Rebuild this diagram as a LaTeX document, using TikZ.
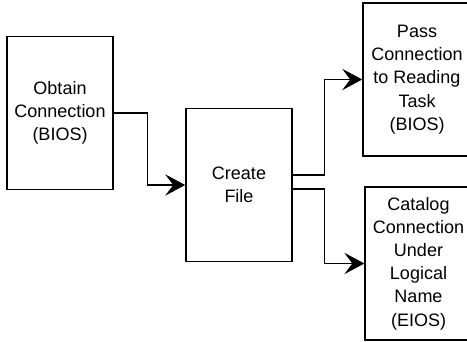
\documentclass[tikz,border=0pt]{standalone}
\usepackage{fontspec}
\setmainfont{Liberation Sans}
\usetikzlibrary{arrows.meta}

\begin{document}
\begin{tikzpicture}[
    x=0.75pt, y=-0.75pt,
    font=\fontsize{13.5}{17.4}\selectfont, >={Stealth[length=15pt, width=16pt, inset=6pt]},
    task/.style={draw, line width=1.2pt, minimum width=#1, minimum height=115pt,
                 align=center, inner sep=0pt},
    task/.default=79.5pt,
    arr/.style={->, line width=0.8pt}]
  \useasboundingbox (0,0) rectangle (467,342);
  %% Boxes
  \node[task] (obtain) at (60,113) {Obtain\\Connection\\(BIOS)};
  \node[task] (create) at (239,185) {Create\\File};
  \node[task=81pt] (pass) at (417,79.5) {Pass\\Connection\\to Reading\\Task\\(BIOS)};
  \node[task=80pt] (catalog) at (418.5,263.5)
    {Catalog\\Connection\\Under\\Logical\\Name\\(EIOS)};
  %% Connectors
  \draw[arr] (obtain.east) -- ++(34,0) |- (create.west);
  \draw[arr] ([yshift=7.5pt]create.east) -- ++(32,0) |- (pass.west);
  \draw[arr] ([yshift=-3pt]create.east) -- ++(32,0) |- (catalog.west);
\end{tikzpicture}
\end{document}
